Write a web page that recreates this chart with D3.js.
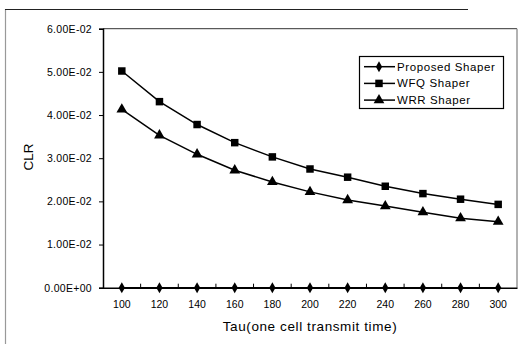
<!DOCTYPE html>
<html><head><meta charset="utf-8">
<script src="https://cdn.jsdelivr.net/npm/d3@7"></script>
<style>
html,body{margin:0;padding:0;background:#fff;}
svg{display:block;font-family:"Liberation Sans",Arial,sans-serif;}
</style></head>
<body><svg id="c" width="532" height="344"></svg>
<script>
const categories = [100,120,140,160,180,200,220,240,260,280,300];
const proposed = [0,0,0,0,0,0,0,0,0,0,0];
const wfq = [0.0502,0.0431,0.0378,0.0336,0.0303,0.0275,0.0256,0.0235,0.0218,0.0205,0.0193];
const wrr = [0.0413,0.0353,0.0309,0.0272,0.0245,0.0222,0.0203,0.0189,0.0175,0.0161,0.0153];
const yTickValues = [0,0.01,0.02,0.03,0.04,0.05,0.06];
const yTickLabels = ["0.00E+00","1.00E-02","2.00E-02","3.00E-02","4.00E-02","5.00E-02","6.00E-02"];
const seriesNames = ["Proposed Shaper","WFQ Shaper","WRR Shaper"];

const svg = d3.select("#c");
const L=103, R=517, T=28.7, B=287.7;
const x = d3.scaleBand().domain(categories).range([L,R]);
const y = d3.scaleLinear().domain([0,0.06]).range([B,T]);

// outer chart border
svg.append("line").attr("x1",5.5).attr("x2",5.5).attr("y1",9).attr("y2",344).attr("stroke","#999").attr("stroke-width",1.2);
svg.append("line").attr("x1",5).attr("x2",468).attr("y1",9.5).attr("y2",9.5).attr("stroke","#222").attr("stroke-width",1);

// plot area border
svg.append("line").attr("x1",L).attr("x2",R).attr("y1",T).attr("y2",T).attr("stroke","#333").attr("stroke-width",1);
svg.append("line").attr("x1",R).attr("x2",R).attr("y1",T).attr("y2",B).attr("stroke","#999").attr("stroke-width",1.5);

// y axis
const yAxis = d3.axisLeft(y).tickValues(yTickValues).tickSize(4).tickPadding(7)
  .tickFormat((d,i)=>yTickLabels[i]);
const gy = svg.append("g").attr("transform",`translate(${L},0)`).call(yAxis);
gy.select(".domain").attr("stroke","#000").attr("stroke-width",1.5);
gy.selectAll("text").attr("font-size","10.5px").attr("letter-spacing","0.3px").attr("fill","#000");

// x axis
const xAxis = d3.axisBottom(x).tickSize(0).tickPadding(13);
const gx = svg.append("g").attr("transform",`translate(0,${B})`).call(xAxis);
gx.select(".domain").attr("stroke","#000").attr("stroke-width",1.5);
gx.selectAll("text").attr("font-size","10.5px").attr("fill","#000");
// minor tick marks at category boundaries (pointing up)
svg.append("g").selectAll("line").data(categories.slice(1)).join("line")
  .attr("x1",d=>x(d)).attr("x2",d=>x(d)).attr("y1",B).attr("y2",B-4)
  .attr("stroke","#000").attr("stroke-width",1);

// axis titles
svg.append("text").attr("x",310).attr("y",331).attr("text-anchor","middle")
  .attr("font-size","13.5px").attr("letter-spacing","0.6px").attr("fill","#000").text("Tau(one cell transmit time)");
svg.append("text").attr("transform","translate(33,157) rotate(-90)").attr("text-anchor","middle")
  .attr("font-size","13.5px").attr("fill","#000").text("CLR");

const cx = d=>x(d)+x.bandwidth()/2;
const line = d3.line().x((d,i)=>cx(categories[i])).y(d=>y(d));
const data = [proposed,wfq,wrr];
const symbols = [d3.symbolDiamond, d3.symbolSquare, d3.symbolTriangle];
const sizes = [34, 56, 50];

data.forEach((s,k)=>{
  svg.append("path").datum(s).attr("d",line).attr("fill","none").attr("stroke","#000").attr("stroke-width",1.5);
  svg.append("g").selectAll("path").data(s).join("path")
    .attr("transform",(d,i)=>`translate(${cx(categories[i])},${y(d)})`)
    .attr("d",d3.symbol().type(symbols[k]).size(sizes[k])).attr("fill","#000");
});

// legend
const lg = svg.append("g");
lg.append("rect").attr("x",359.5).attr("y",56.5).attr("width",144).attr("height",52)
  .attr("fill","#fff").attr("stroke","#000").attr("stroke-width",1.2);
seriesNames.forEach((n,k)=>{
  const yy = 66.7 + k*16.7;
  lg.append("line").attr("x1",364).attr("x2",395).attr("y1",yy).attr("y2",yy).attr("stroke","#000").attr("stroke-width",1.5);
  lg.append("path").attr("transform",`translate(379,${yy})`).attr("d",d3.symbol().type(symbols[k]).size(sizes[k])).attr("fill","#000");
  lg.append("text").attr("x",397).attr("y",yy+4).attr("font-size","11.5px").attr("letter-spacing","0.6px")
    .attr("fill","#000").text(n);
});
</script></body></html>
